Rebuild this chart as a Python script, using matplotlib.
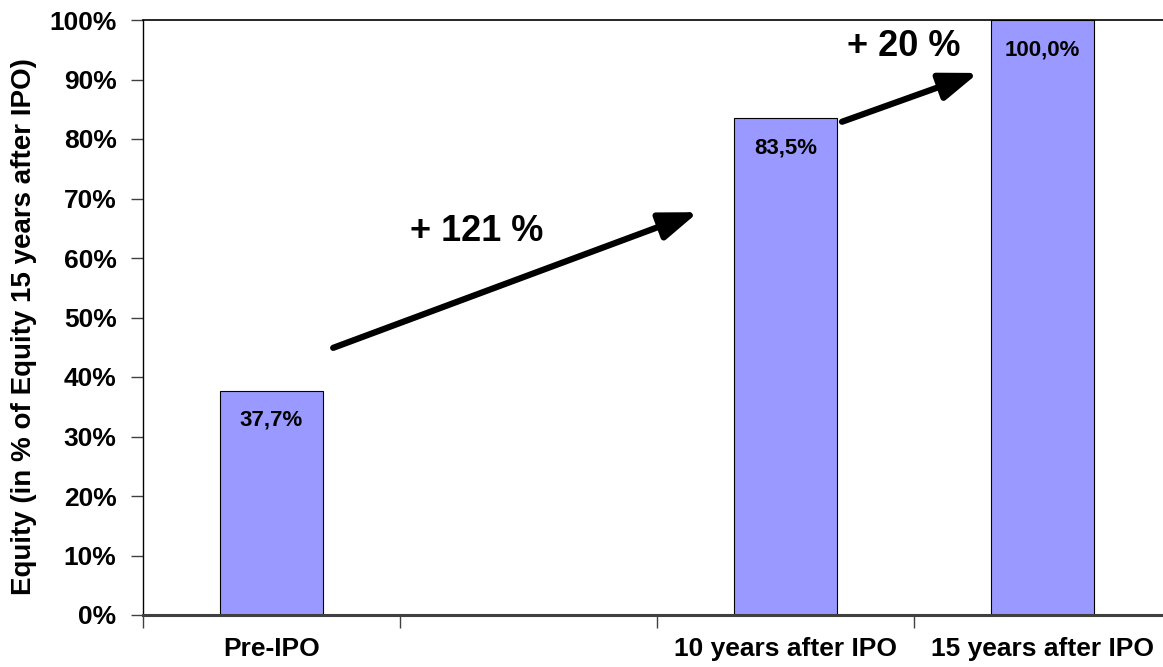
import matplotlib.pyplot as plt
from matplotlib.ticker import FixedLocator, FuncFormatter

plt.rcParams['font.family'] = ['Liberation Sans', 'DejaVu Sans']
plt.rcParams['font.weight'] = 'bold'

# four slots on the x axis, the second one is left empty
slots = [0.5, 2.5, 3.5]
labels = ['Pre-IPO', '10 years after IPO', '15 years after IPO']
equity = [37.7, 83.5, 100.0]
value_text = ['37,7%', '83,5%', '100,0%']

# growth arrows: (start x, start y, end x, end y), label and label position
growth = [
    ((0.74, 44.9), (2.16, 67.7), '+ 121 %', (1.30, 64.4)),
    ((2.72, 82.9), (3.25, 91.1), '+ 20 %', (2.96, 95.5)),
]

fig = plt.figure(figsize=(11.63, 6.67), dpi=100)
ax = fig.add_axes([143 / 1163, 52 / 667, 1028 / 1163, 595 / 667])

ax.bar(slots, equity, width=0.4, color='#9999FF', edgecolor='black', linewidth=0.8)

for x, v, t in zip(slots, equity, value_text):
    ax.text(x, v - 5.0, t, ha='center', va='center', fontsize=16, fontweight='bold')

for start, end, txt, pos in growth:
    ax.annotate('', xy=end, xytext=start,
                arrowprops=dict(arrowstyle='-|>,head_length=1.15,head_width=0.42',
                                lw=4.5, color='black', mutation_scale=20,
                                shrinkA=0, shrinkB=0))
    ax.text(pos[0], pos[1], txt, ha='center', va='center', fontsize=26, fontweight='bold')

ax.set_xlim(0, 4)
ax.set_ylim(0, 100)
ax.yaxis.set_major_locator(FixedLocator(range(0, 101, 10)))
ax.yaxis.set_major_formatter(FuncFormatter(lambda v, p: f'{v:.0f}%'))
ax.tick_params(axis='y', direction='out', length=9, width=1, color='#404040',
               labelsize=19, pad=10)

# ticks at slot borders, labels in the middle of the slots
ax.set_xticks([0, 1, 2, 3, 4])
ax.set_xticklabels([])
ax.set_xticks(slots, minor=True)
ax.set_xticklabels(labels, minor=True)
ax.tick_params(axis='x', which='major', direction='out', length=9, width=1, color='#404040')
ax.tick_params(axis='x', which='minor', length=0, labelsize=19, pad=16)
for lab in ax.get_xticklabels(minor=True) + ax.get_yticklabels():
    lab.set_fontweight('bold')

ax.set_ylabel('Equity (in % of Equity 15 years after IPO)', fontsize=20, fontweight='bold')
ax.yaxis.set_label_coords(-106 / 1028, 0.485)

ax.spines['left'].set_linewidth(1)
ax.spines['top'].set_linewidth(1.2)
ax.spines['bottom'].set_linewidth(2.2)
ax.spines['bottom'].set_color('#404040')
ax.spines['right'].set_visible(False)

fig.savefig('out.png', dpi=100)
